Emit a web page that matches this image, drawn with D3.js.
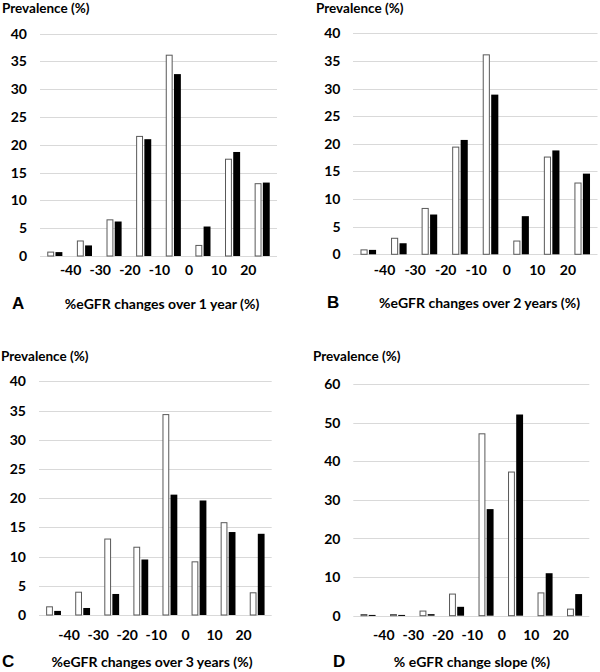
<!DOCTYPE html>
<html>
<head>
<meta charset="utf-8">
<script src="https://cdn.jsdelivr.net/npm/d3@7"></script>
<style>
  body { margin: 0; background: #fff; }
  svg { display: block; }
  text { font-family: Lato, "Open Sans", sans-serif; font-weight: bold; fill: #000; }
</style>
</head>
<body>
<div id="chart"></div>
<script>
// bins of % eGFR change (8 bars per series), labels sit between bins
const bins = ["b1", "b2", "b3", "b4", "b5", "b6", "b7", "b8"];
const xTickLabels = ["-40", "-30", "-20", "-10", "0", "10", "20"];

// panel A: over 1 year
const whiteA = [0.7, 2.7, 6.5, 21.5, 36.1, 1.9, 17.4, 13.0];
const blackA = [0.7, 1.9, 6.2, 21.0, 32.7, 5.3, 18.7, 13.2];
// panel B: over 2 years
const whiteB = [0.8, 2.9, 8.3, 19.4, 36.1, 2.4, 17.6, 12.9];
const blackB = [0.8, 2.0, 7.2, 20.7, 28.9, 6.9, 18.8, 14.6];
// panel C: over 3 years
const whiteC = [1.4, 3.9, 13.0, 11.6, 34.3, 9.1, 15.8, 3.8];
const blackC = [0.7, 1.2, 3.6, 9.5, 20.6, 19.6, 14.2, 13.9];
// panel D: change slope
const whiteD = [0.3, 0.3, 1.2, 5.6, 47.1, 37.2, 5.9, 1.7];
const blackD = [0.2, 0.2, 0.4, 2.3, 27.6, 52.1, 11.0, 5.6];

const yTicksAC = [0, 5, 10, 15, 20, 25, 30, 35, 40];
const yTicksD = [0, 10, 20, 30, 40, 50, 60];

const titles = {
  A: "%eGFR changes over 1 year (%)",
  B: "%eGFR changes over 2 years (%)",
  C: "%eGFR changes over 3 years (%)",
  D: "% eGFR change slope (%)"
};

const W = 600, H = 672;
const svg = d3.select("#chart").append("svg")
  .attr("width", W).attr("height", H);

// layout of each panel
const panels = [
  { id: "A", white: whiteA, black: blackA, ticks: yTicksAC, max: 40,
    x0: 40, x1: 277, yTop: 33.5, yBot: 256, yTickX: 27,
    yLabX: 2, yLabY: 12.5, xLabY: 275, titleY: 309, titleX: 162, letterX: 12 },
  { id: "B", white: whiteB, black: blackB, ticks: yTicksAC, max: 40,
    x0: 353, x1: 597.5, yTop: 33.3, yBot: 254.3, yTickX: 340.5,
    yLabX: 316, yLabY: 12.5, xLabY: 275, titleY: 308, titleX: 479.5, letterX: 327 },
  { id: "C", white: whiteC, black: blackC, ticks: yTicksAC, max: 40,
    x0: 39, x1: 271.7, yTop: 381.3, yBot: 615, yTickX: 26,
    yLabX: 1, yLabY: 360.5, xLabY: 640, titleY: 667, titleX: 152, letterX: 2 },
  { id: "D", white: whiteD, black: blackD, ticks: yTicksD, max: 60,
    x0: 353.3, x1: 589.3, yTop: 384, yBot: 615.7, yTickX: 340.5,
    yLabX: 313, yLabY: 361, xLabY: 640, titleY: 667, titleX: 472, letterX: 333 }
];

panels.forEach(drawPanel);

function drawPanel(p) {
  const g = svg.append("g");

  const x = d3.scaleBand().domain(bins).range([p.x0, p.x1])
    .paddingInner(0.49).paddingOuter(0.245);
  const xs = d3.scaleBand().domain(["white", "black"]).range([0, x.bandwidth()])
    .paddingInner(0.16);
  const y = d3.scaleLinear().domain([0, p.max]).range([p.yBot, p.yTop]);
  const step = x.step();

  // gridlines
  g.selectAll("line.grid").data(p.ticks).join("line")
    .attr("class", "grid")
    .attr("x1", p.x0).attr("x2", p.x1)
    .attr("y1", d => Math.round(y(d)) + 0.5).attr("y2", d => Math.round(y(d)) + 0.5)
    .attr("stroke", "#d9d9d9").attr("stroke-width", 1);

  // y tick labels
  g.selectAll("text.ytick").data(p.ticks).join("text")
    .attr("class", "ytick")
    .attr("x", p.yTickX).attr("y", d => y(d))
    .attr("dy", "0.36em")
    .attr("text-anchor", "end")
    .style("font-size", "14px")
    .text(d => d);

  // bars
  const rows = bins.map((b, i) => ({ bin: b, white: p.white[i], black: p.black[i] }));
  const grp = g.selectAll("g.bin").data(rows).join("g")
    .attr("class", "bin")
    .attr("transform", d => "translate(" + x(d.bin) + ",0)");

  grp.append("rect")
    .attr("x", xs("white") + 0.5)
    .attr("y", d => y(d.white))
    .attr("width", xs.bandwidth() - 1)
    .attr("height", d => Math.max(0.5, y(0) - y(d.white)))
    .attr("fill", "#fff")
    .attr("stroke", "#595959")
    .attr("stroke-width", 1);

  grp.append("rect")
    .attr("x", xs("black"))
    .attr("y", d => y(d.black))
    .attr("width", xs.bandwidth())
    .attr("height", d => Math.max(1, y(0) - y(d.black)))
    .attr("fill", "#000");

  // x tick labels between bins
  g.selectAll("text.xtick").data(xTickLabels).join("text")
    .attr("class", "xtick")
    .attr("x", (d, i) => p.x0 + step * (i + 1) + 1)
    .attr("y", p.xLabY)
    .attr("text-anchor", "middle")
    .style("font-size", "14px")
    .text(d => d);

  // axis title and panel letter
  g.append("text")
    .attr("x", p.yLabX).attr("y", p.yLabY)
    .style("font-size", "13.5px")
    .text("Prevalence (%)");

  g.append("text")
    .attr("x", p.titleX).attr("y", p.titleY)
    .attr("text-anchor", "middle")
    .style("font-size", "14px")
    .text(titles[p.id]);

  g.append("text")
    .attr("x", p.letterX).attr("y", p.titleY)
    .style("font-family", "'Liberation Sans', Arial, sans-serif")
    .style("font-size", "17px")
    .text(p.id);
}
</script>
</body>
</html>
